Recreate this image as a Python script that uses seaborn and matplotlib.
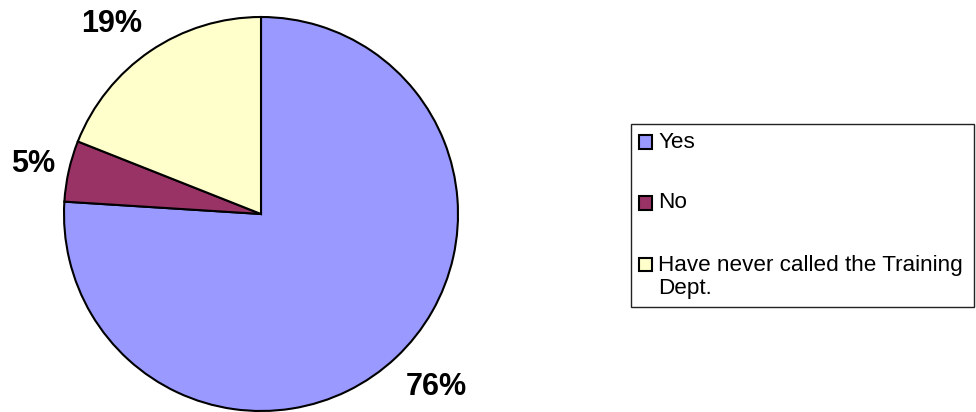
import matplotlib
matplotlib.use("Agg")
import matplotlib.pyplot as plt
from matplotlib.patches import Rectangle
import numpy as np
import seaborn as sns

# Survey answers and their shares (percent)
categories = ["Yes", "No", "Have never called the Training\nDept."]
shares = [76, 5, 19]
colors = ["#9999FF", "#993366", "#FFFFCC"]

sns.set_theme(style="white")
plt.rcParams["font.family"] = ["Liberation Sans", "DejaVu Sans"]

W, H = 976, 412
fig = plt.figure(figsize=(W / 100, H / 100), dpi=100)
fig.patch.set_facecolor("white")

# Pie axes, laid out in pixel units
cx, cy, r = 261, 214, 197
pad = 1.03
ax = fig.add_axes([(cx - r * pad) / W, (H - cy - r * pad) / H,
                   2 * r * pad / W, 2 * r * pad / H])
wedges, _ = ax.pie(shares, colors=colors, startangle=90, counterclock=False,
                   radius=1, wedgeprops=dict(edgecolor="black", linewidth=1.5))
ax.set_xlim(-pad, pad)
ax.set_ylim(-pad, pad)
ax.set_aspect("equal")
ax.axis("off")

# Percentage labels just outside each slice
gap_x, gap_y = 14, 16
for w, v in zip(wedges, shares):
    mid = np.deg2rad((w.theta1 + w.theta2) / 2)
    c, s = np.cos(mid), np.sin(mid)
    half_h = 17 if s > 0 else 24
    ax.annotate(f"{v}%", xy=(c, s), xytext=(c * gap_x, s * (gap_y + half_h)),
                textcoords="offset pixels", ha="right" if c < 0 else "left",
                va="center", fontsize=22, fontweight="bold", color="black")


def fx(x):
    return x / W


def fy(y):
    return 1 - y / H


# Legend box drawn in figure coordinates
fig.patches.append(Rectangle((fx(631), fy(307)), (974 - 631) / W, (307 - 124) / H,
                             transform=fig.transFigure, fill=False,
                             edgecolor="#222222", linewidth=1.0))
row_y = [142, 203, 264.5]
sq = 13.5
for label, col, y in zip(categories, colors, row_y):
    fig.patches.append(Rectangle((fx(645.5 - sq / 2), fy(y + sq / 2)), sq / W, sq / H,
                                 transform=fig.transFigure, facecolor=col,
                                 edgecolor="black", linewidth=1.5))
    if "\n" in label:
        fig.text(fx(658), fy(y - 9), label, ha="left", va="top", fontsize=16.2,
                 color="black", linespacing=1.1)
    else:
        fig.text(fx(658), fy(y), label, ha="left", va="center", fontsize=16.2,
                 color="black")

fig.savefig("out.png", dpi=100, facecolor="white")
